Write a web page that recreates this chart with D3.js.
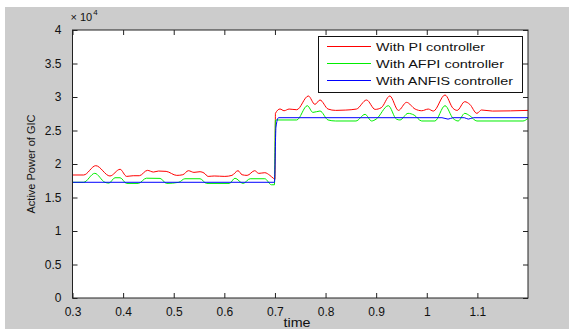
<!DOCTYPE html>
<html>
<head>
<meta charset="utf-8">
<script src="https://cdn.jsdelivr.net/npm/d3@7/dist/d3.min.js"></script>
<style>
html,body{margin:0;padding:0;background:#fff;}
svg{display:block;}
text{font-family:"Liberation Sans",Arial,Helvetica,sans-serif;fill:#111;}
</style>
</head>
<body>
<svg id="chart" width="569" height="329"></svg>
<script>
// ---- data ----
const xTicks = [0.3,0.4,0.5,0.6,0.7,0.8,0.9,1.0,1.1];
const xTickLabels = ["0.3","0.4","0.5","0.6","0.7","0.8","0.9","1","1.1"];
const yTicks = [0,5000,10000,15000,20000,25000,30000,35000,40000];
const yTickLabels = ["0","0.5","1","1.5","2","2.5","3","3.5","4"];
const legendLabels = ["With PI controller","With AFPI controller","With ANFIS controller"];
const seriesColors = ["#ff0000","#00ee00","#0000ff"];

// With PI controller [time, power]
const piSeries = [
 [0.300,18360],[0.322,18360],[0.346,19750],[0.374,18210],[0.394,19210],[0.407,18150],
 [0.420,18250],[0.432,18250],[0.448,19050],[0.460,18800],[0.470,18950],[0.485,18900],
 [0.506,18300],[0.518,18400],[0.529,19000],[0.540,18750],[0.552,18850],[0.560,18650],
 [0.568,18150],[0.580,18210],[0.601,18150],[0.615,18300],[0.627,19000],[0.635,18400],
 [0.645,18300],[0.660,19000],[0.668,18600],[0.680,18700],[0.690,18300],[0.697,17860],
 [0.700,17700],[0.701,27560],[0.710,28210],[0.718,27950],[0.728,28200],[0.743,28100],
 [0.766,30150],[0.779,28900],[0.789,29550],[0.805,28200],[0.820,28000],[0.840,28050],
 [0.861,28200],[0.881,29550],[0.898,28150],[0.910,28400],[0.927,30150],[0.944,28000],
 [0.960,29200],[0.977,28200],[0.990,27950],[1.003,28200],[1.013,27900],[1.036,30300],
 [1.052,28300],[1.060,28000],[1.075,29300],[1.085,28900],[1.099,27560],[1.108,28060],
 [1.130,27900],[1.200,28000]
];
// With AFPI controller
const afpiSeries = [
 [0.300,17270],[0.322,17270],[0.344,18610],[0.364,17270],[0.372,17150],[0.384,17950],
 [0.394,17950],[0.407,17100],[0.430,17100],[0.446,17880],[0.473,17850],[0.486,17100],
 [0.510,17270],[0.522,17800],[0.552,17800],[0.565,17100],[0.610,17100],[0.621,17880],
 [0.637,17100],[0.651,17800],[0.680,17800],[0.693,16900],[0.699,16900],[0.701,26570],
 [0.743,26570],[0.764,28700],[0.775,27700],[0.789,27910],[0.805,26570],[0.820,26420],
 [0.860,26420],[0.878,27410],[0.891,26420],[0.900,26700],[0.924,28700],[0.940,26700],
 [0.947,26570],[0.963,27560],[0.975,27300],[0.990,26420],[1.016,26420],[1.036,28700],
 [1.052,26800],[1.062,26420],[1.075,27560],[1.085,27200],[1.099,26420],[1.190,26420],
 [1.200,26800]
];
// With ANFIS controller
const anfisSeries = [
 [0.300,17270],[0.699,17270],[0.702,25500],[0.707,26910],[1.030,26910],[1.042,26700],
 [1.052,26910],[1.074,26910],[1.082,26700],[1.092,26910],[1.200,26910]
];

// ---- layout ----
const W = 569, H = 329;
const M = {left:72.5, right:528, top:30, bottom:298};
const svg = d3.select("#chart");

svg.append("rect").attr("x",5).attr("y",7).attr("width",W-5).attr("height",H-7).attr("fill","#cccccc");
svg.append("rect").attr("x",M.left).attr("y",M.top).attr("width",M.right-M.left).attr("height",M.bottom-M.top).attr("fill","#ffffff");

const x = d3.scaleLinear().domain([0.3,1.2]).range([M.left,M.right]);
const y = d3.scaleLinear().domain([0,40000]).range([M.bottom,M.top]);

// data lines
const line = d3.line().x(d=>x(d[0])).y(d=>y(d[1])).curve(d3.curveMonotoneX);
svg.append("clipPath").attr("id","clip").append("rect")
  .attr("x",M.left).attr("y",M.top).attr("width",M.right-M.left).attr("height",M.bottom-M.top);
const gLines = svg.append("g").attr("clip-path","url(#clip)");
[piSeries, afpiSeries, anfisSeries].forEach((s,i)=>{
  gLines.append("path").datum(s).attr("d",line).attr("fill","none")
    .attr("stroke",seriesColors[i]).attr("stroke-width",1);
});

// axes (MATLAB style: ticks inside, box)
const tickLen = 5;
const axisColor = "#222";
const bottomAxis = d3.axisBottom(x).tickValues(xTicks).tickFormat((d,i)=>xTickLabels[i]).tickSizeInner(-tickLen).tickSizeOuter(0).tickPadding(9);
const gx = svg.append("g").attr("transform",`translate(0,${M.bottom})`).call(bottomAxis);
gx.select(".domain").remove();
gx.selectAll("line").attr("stroke",axisColor);
gx.selectAll("text").attr("font-size","12px").attr("fill","#111").attr("font-family","Liberation Sans, Arial, sans-serif");

const topAxis = d3.axisTop(x).tickValues(xTicks).tickFormat("").tickSizeInner(-tickLen).tickSizeOuter(0);
const gt = svg.append("g").attr("transform",`translate(0,${M.top})`).call(topAxis);
gt.select(".domain").remove();
gt.selectAll("line").attr("stroke",axisColor);

const leftAxis = d3.axisLeft(y).tickValues(yTicks).tickFormat((d,i)=>yTickLabels[i]).tickSizeInner(-tickLen).tickSizeOuter(0).tickPadding(11);
const gy = svg.append("g").attr("transform",`translate(${M.left},0)`).call(leftAxis);
gy.select(".domain").remove();
gy.selectAll("line").attr("stroke",axisColor);
gy.selectAll("text").attr("font-size","12px").attr("fill","#111").attr("font-family","Liberation Sans, Arial, sans-serif");

const rightAxis = d3.axisRight(y).tickValues(yTicks).tickFormat("").tickSizeInner(-tickLen).tickSizeOuter(0);
const gr = svg.append("g").attr("transform",`translate(${M.right},0)`).call(rightAxis);
gr.select(".domain").remove();
gr.selectAll("line").attr("stroke",axisColor);

// box
svg.append("rect").attr("x",M.left).attr("y",M.top).attr("width",M.right-M.left).attr("height",M.bottom-M.top)
  .attr("fill","none").attr("stroke",axisColor).attr("stroke-width",1);

// exponent label
const ex = svg.append("text").attr("x",M.left-2).attr("y",21).attr("font-size","11px");
ex.append("tspan").text("\u00d7 10");
ex.append("tspan").attr("font-size","8px").attr("dy","-6").attr("dx","1").text("4");

// axis titles
svg.append("text").attr("x",297).attr("y",326.5).attr("text-anchor","middle").attr("font-size","12px")
  .attr("textLength",27).attr("lengthAdjust","spacingAndGlyphs").text("time");
svg.append("text").attr("transform","translate(35,164) rotate(-90)").attr("text-anchor","middle")
  .attr("font-size","11px").text("Active Power of GIC");

// legend
const lg = {x:318.5, y:36.5, w:204, h:56};
svg.append("rect").attr("x",lg.x).attr("y",lg.y).attr("width",lg.w).attr("height",lg.h)
  .attr("fill","#fff").attr("stroke","#111").attr("stroke-width",1);
const rowY = [46.5,63.5,80.5];
const txtLen = [109,128,137];
legendLabels.forEach((lab,i)=>{
  svg.append("line").attr("x1",327).attr("x2",371).attr("y1",rowY[i]).attr("y2",rowY[i])
    .attr("stroke",seriesColors[i]).attr("stroke-width",1);
  svg.append("text").attr("x",376).attr("y",rowY[i]+4).attr("font-size","11.5px")
    .attr("textLength",txtLen[i]).attr("lengthAdjust","spacingAndGlyphs").text(lab);
});
</script>
</body>
</html>
